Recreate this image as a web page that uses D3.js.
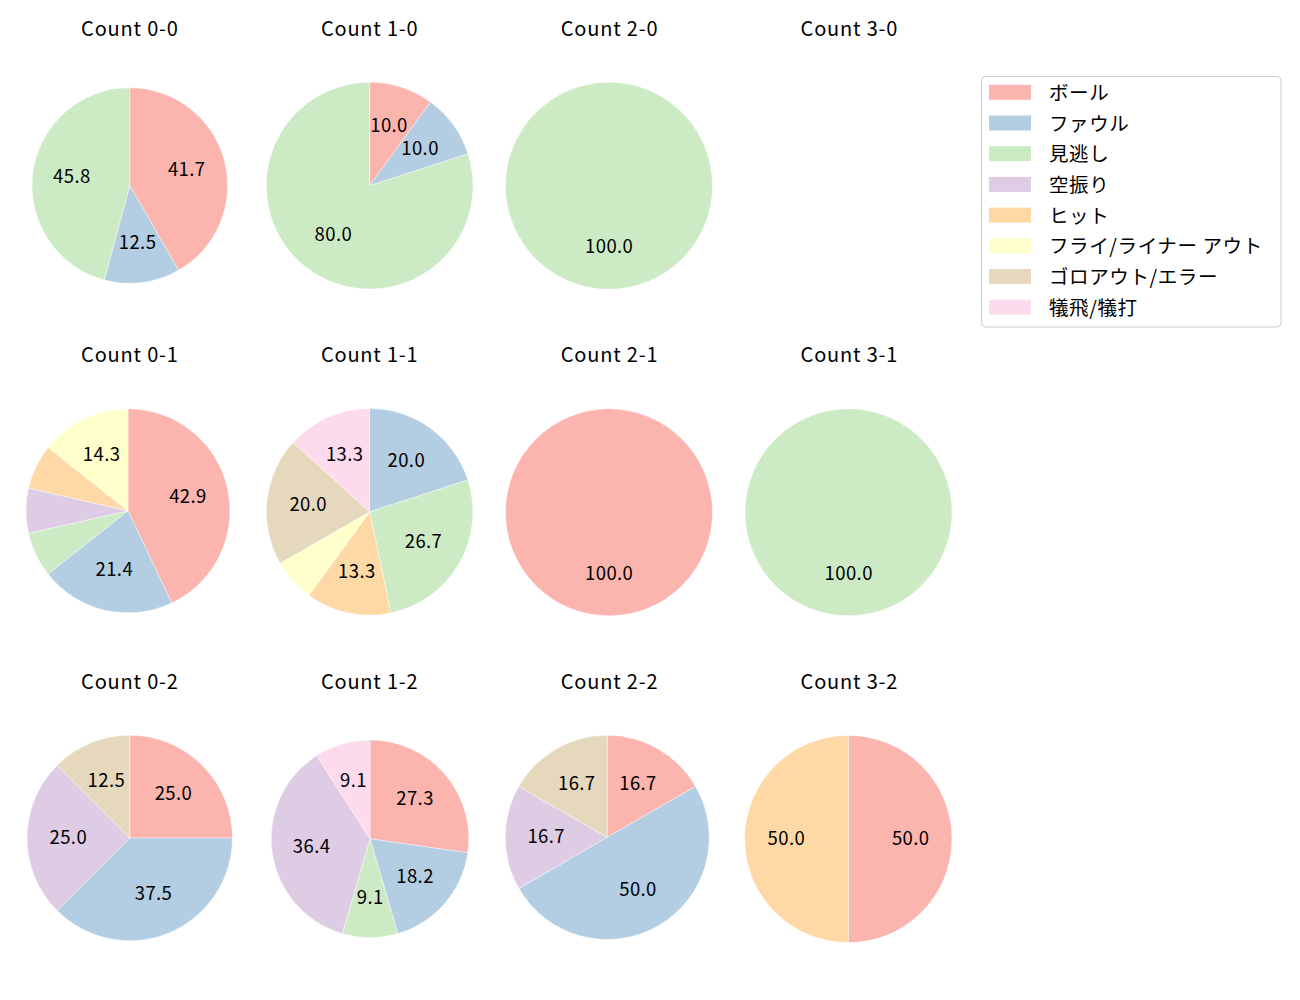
<!DOCTYPE html>
<html>
<head>
<meta charset="utf-8">
<script src="https://cdn.jsdelivr.net/npm/d3@7"></script>
<style>
  html, body { margin: 0; padding: 0; background: #fff; }
  svg { display: block; font-family: "Noto Sans CJK JP", "Noto Sans", sans-serif; }
</style>
</head>
<body>
<svg id="chart" width="1300" height="1000"></svg>
<script>
// ---- data ----
const categories = ["ボール", "ファウル", "見逃し", "空振り", "ヒット", "フライ/ライナー アウト", "ゴロアウト/エラー", "犠飛/犠打"];
const colors = ["#fbb4ae", "#b3cde3", "#ccebc5", "#decbe4", "#fed9a6", "#ffffcc", "#e5d8bd", "#fddaec"];
const balls = [0, 1, 2, 3];
const strikes = [0, 1, 2];
const countLabels = ["0-0","1-0","2-0","3-0","0-1","1-1","2-1","3-1","0-2","1-2","2-2","3-2"];
// percentages per category, in category order (null = no pitches in that count)
const count00 = [41.7, 12.5, 45.8, 0, 0, 0, 0, 0];
const count10 = [10.0, 10.0, 80.0, 0, 0, 0, 0, 0];
const count20 = [0, 0, 100.0, 0, 0, 0, 0, 0];
const count30 = null;
const count01 = [42.9, 21.4, 7.1, 7.1, 7.1, 14.3, 0, 0];
const count11 = [0, 20.0, 26.7, 0, 13.3, 6.7, 20.0, 13.3];
const count21 = [100.0, 0, 0, 0, 0, 0, 0, 0];
const count31 = [0, 0, 100.0, 0, 0, 0, 0, 0];
const count02 = [25.0, 37.5, 0, 25.0, 0, 0, 12.5, 0];
const count12 = [27.3, 18.2, 9.1, 36.4, 0, 0, 0, 9.1];
const count22 = [16.7, 50.0, 0, 16.7, 0, 0, 16.7, 0];
const count32 = [50.0, 0, 0, 0, 50.0, 0, 0, 0];
const seriesValues = [count00, count10, count20, count30, count01, count11, count21, count31, count02, count12, count22, count32];

// ---- layout (per-pie fine adjustments, measured) ----
const geom = [
  {dx: 0.3, dy: -0.2, r: 97.8}, {dx: 0.3, dy: 0, r: 103.4}, {dx: -0.2, dy: 0, r: 103.5}, {dx: 0, dy: 0, r: 103.5},
  {dx: -1.5, dy: -1.5, r: 102}, {dx: 0.3, dy: -0.5, r: 103.3}, {dx: -0.2, dy: 0, r: 103.5}, {dx: -0.5, dy: 0, r: 103.5},
  {dx: 0.2, dy: -1, r: 102.7}, {dx: 0.7, dy: -0.2, r: 98.8}, {dx: -2, dy: -1.7, r: 102}, {dx: -0.7, dy: 0, r: 103.6}
];

const svg = d3.select("#chart");
const xCol = d3.scalePoint().domain(balls).range([129.5, 849]);
const yRow = d3.scalePoint().domain(strikes).range([185.7, 839]);

const pie = d3.pie().sort(null).value(d => d.v).startAngle(0).endAngle(2 * Math.PI);

seriesValues.forEach((vals, i) => {
  const b = balls[i % 4], s = strikes[Math.floor(i / 4)];
  const g0 = geom[i];
  const cx = xCol(b) + g0.dx, cy = yRow(s) + g0.dy;
  const colX = xCol(b), rowY = yRow(s);

  // title
  svg.append("text")
    .attr("x", colX + 0.4)
    .attr("y", rowY - 150)
    .attr("text-anchor", "middle")
    .attr("font-size", 20)
    .attr("letter-spacing", 0.8)
    .attr("fill", "#000")
    .text("Count " + countLabels[i]);

  if (!vals) return;
  const data = vals.map((v, k) => ({v, k})).filter(d => d.v > 0);
  const arcs = pie(data);
  const arc = d3.arc().innerRadius(0).outerRadius(g0.r);
  const g = svg.append("g").attr("transform", `translate(${cx},${cy})`);
  g.selectAll("path").data(arcs).join("path")
    .attr("d", arc)
    .attr("fill", d => colors[d.data.k])
    .attr("stroke", "#fff")
    .attr("stroke-width", 0.4);
  const lab = d3.arc().innerRadius(g0.r * 0.6).outerRadius(g0.r * 0.6);
  g.selectAll("text").data(arcs.filter(d => d.data.v >= 8)).join("text")
    .attr("transform", d => { const c = lab.centroid(d); return `translate(${c[0] + 0.2},${c[1] - 2.5})`; })
    .attr("text-anchor", "middle")
    .attr("dominant-baseline", "central")
    .attr("font-size", 18.5)
    .attr("letter-spacing", 0.4)
    .attr("fill", "#000")
    .text(d => d.data.v.toFixed(1));
});

// ---- legend ----
const lg = svg.append("g");
lg.append("rect")
  .attr("x", 981.5).attr("y", 76.5)
  .attr("width", 299.5).attr("height", 250.5)
  .attr("rx", 4).attr("ry", 4)
  .attr("fill", "#fff").attr("fill-opacity", 0.8)
  .attr("stroke", "#cccccc").attr("stroke-width", 1);
const ly = d3.scalePoint().domain(d3.range(categories.length)).range([92.3, 92.3 + 30.7 * 7]);
categories.forEach((c, k) => {
  lg.append("rect")
    .attr("x", 989).attr("y", ly(k) - 7.5)
    .attr("width", 42).attr("height", 15)
    .attr("fill", colors[k]);
  lg.append("text")
    .attr("x", 1049).attr("y", ly(k) - 1)
    .attr("dominant-baseline", "central")
    .attr("font-size", 19.5)
    .attr("letter-spacing", 0.6)
    .attr("fill", "#000")
    .text(c);
});
</script>
</body>
</html>
